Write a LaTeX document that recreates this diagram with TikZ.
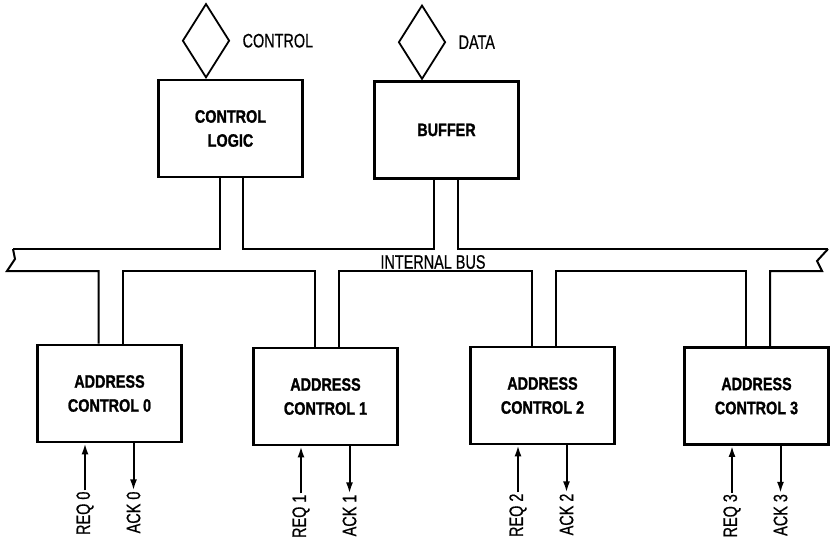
\documentclass[tikz,border=0pt]{standalone}
\usepackage{fontspec}
\setmainfont{Liberation Sans}[FakeStretch=0.74, FakeBold=0.6]
\newfontfamily\boxfont{Liberation Sans Bold}[FakeStretch=0.8, FakeBold=1.2]
\usetikzlibrary{positioning,shapes.geometric,arrows.meta}

\tikzset{
  unit/.style={draw, line width=2.8pt, minimum width=144pt, minimum height=97pt,
    align=center, inner sep=0pt, font=\boxfont\fontsize{18}{24}\selectfont},
  port/.style={draw, diamond, line width=1.8pt, minimum width=47pt, minimum height=74pt, inner sep=0pt},
  bus/.style={line width=2pt, line join=miter},
  sig/.style={line width=2pt, -{Latex[length=11pt,width=7pt]}},
  lbl/.style={font=\fontsize{19.5}{22}\selectfont, inner sep=1pt},
  pin/.style={lbl, rotate=90, anchor=east}
}

\begin{document}
\begin{tikzpicture}[x=1pt, y=-1pt]
\useasboundingbox (0,0) rectangle (830,544);
% control logic and buffer
\node[unit] (cl) at (230.5,128.5) {CONTROL\\LOGIC};
\node[unit] (buf) at (446.5,130) {BUFFER};
\node[port, anchor=south] (ctl) at ([xshift=-24.5pt]cl.north) {};
\node[port, anchor=south] (dat) at ([xshift=-24.5pt]buf.north) {};
\node[lbl, right=11pt of ctl] (ctl-txt) {CONTROL};
\node[lbl, right=11pt of dat] (dat-txt) {DATA};

% internal bus
\coordinate (bus-nw) at (13,249);
\coordinate (bus-wz) at (15,259);
\coordinate (bus-sw) at (7,271);
\coordinate (bus-ne) at (828,249);
\coordinate (bus-ez) at (817,261);
\coordinate (bus-se) at (822,271);
\coordinate (cl-a) at ([xshift=-10.5pt]cl.south);
\coordinate (cl-b) at ([xshift=12.5pt]cl.south);
\coordinate (buf-a) at ([xshift=-12.5pt]buf.south);
\coordinate (buf-b) at ([xshift=11.5pt]buf.south);
\node[lbl] (bus-txt) at (433,262) {INTERNAL BUS};

\draw[bus] (bus-nw) -| (cl-a);
\draw[bus] (cl-b) |- (buf-a |- bus-nw) -- (buf-a);
\draw[bus] (buf-b) |- (bus-ne);

% address controls
\foreach \i/\x/\y in {0/109.5/393.5, 1/325.5/396.5, 2/542.5/395.5, 3/756.5/396} {
  \node[unit] (ac\i) at (\x,\y) {ADDRESS\\CONTROL \i};
  \coordinate (ac\i-a) at ([xshift=-11pt]ac\i.north);
  \coordinate (ac\i-b) at ([xshift=13.5pt]ac\i.north);
  \node[pin] (req\i) at ([xshift=-24.5pt, yshift=-47pt]ac\i.south) {REQ \i};
  \node[pin] (ack\i) at ([xshift=24pt, yshift=-47pt]ac\i.south) {ACK \i};
  \draw[sig] (req\i.east) -- (req\i.east |- ac\i.south);
  \draw[sig] (ack\i.east |- ac\i.south) -- (ack\i.east);
}

\draw[bus] (ac0-a) |- (bus-sw) -- (bus-wz) -- (bus-nw);
\foreach \i/\j in {0/1, 1/2, 2/3}
  \draw[bus] (ac\i-b) |- (ac\j-a |- bus-sw) -- (ac\j-a);
\draw[bus] (ac3-b) |- (bus-se) -- (bus-ez) -- (bus-ne);
\end{tikzpicture}
\end{document}
